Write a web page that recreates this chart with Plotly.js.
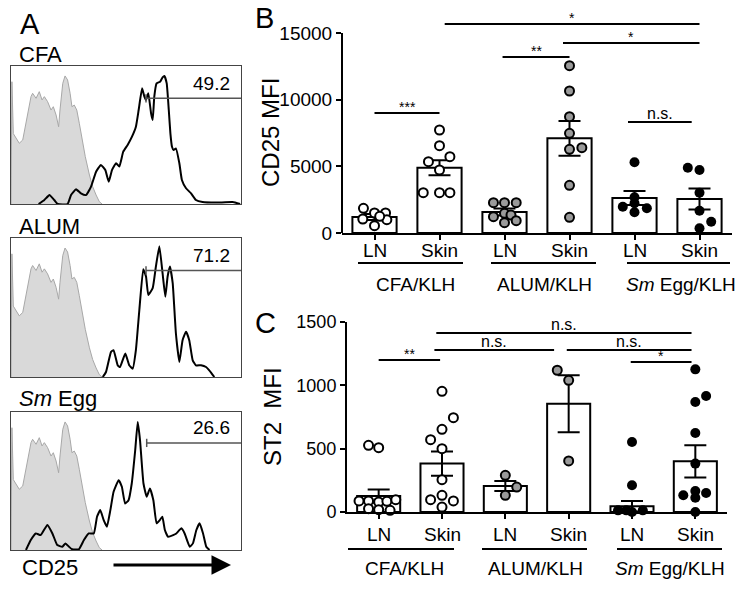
<!DOCTYPE html>
<html><head><meta charset="utf-8">
<script src="https://cdn.plot.ly/plotly-3.0.1.min.js"></script>
<style>html,body{margin:0;padding:0;background:#fff}#chart{width:744px;height:589px}</style>
</head><body><div id="chart"></div>
<script>
// ================= DATA =================
const categories = ['LN', 'Skin', 'LN', 'Skin', 'LN', 'Skin'];
const groupLabels = ['CFA/KLH', 'ALUM/KLH', '<i>Sm</i> Egg/KLH'];

// Panel B: CD25 MFI (mean, SEM, individual points with horizontal jitter)
const cd25Ticks = [0, 5000, 10000, 15000];
const cd25Mean = [1200, 4900, 1575, 7100, 2625, 2550];
const cd25Sem = [220, 560, 260, 1300, 520, 790];
const cd25Pts = [
  [1850, 1500, 1500, 1050, 1000, 550, 1250],
  [7725, 6550, 5350, 5725, 4725, 3025, 3025, 3025],
  [2275, 2275, 2275, 1225, 1475, 1350, 775, 925],
  [12550, 10650, 8725, 7475, 6275, 6400, 3575, 1175],
  [5300, 2675, 2225, 1975, 1850, 1550],
  [4900, 4725, 3025, 1675, 850, 350]
];
const cd25Off = [
  [-0.17, 0, 0.17, -0.18, 0.19, 0, 0.08],
  [0, 0, -0.17, 0.16, 0, -0.25, 0, 0.16],
  [-0.17, 0, 0.18, -0.17, 0, 0.1, 0, 0.18],
  [0, 0, 0, 0, 0, 0.19, 0, 0],
  [0, 0, 0, -0.18, 0.19, 0],
  [-0.18, 0, 0, 0, 0.18, 0]
];
// significance brackets panel B
const sigBx0 = [0, 1.08, 1.97, 2.9, 3.9];
const sigBx1 = [1, 5, 3, 5, 4.88];
const sigBy = [9000, 15675, 13200, 14250, 8325];
const sigBlab = ['***', '*', '**', '*', 'n.s.'];

// Panel C: ST2 MFI
const st2Ticks = [0, 500, 1000, 1500];
const st2Mean = [126, 382, 205, 855, 45, 400];
const st2Sem = [52, 96, 40, 225, 42, 127];
const st2Pts = [
  [526, 508, 87, 87, 79, 84, 97, 26, 18, 13],
  [953, 745, 653, 571, 500, 255, 97, 132, 87, 39],
  [290, 197, 132],
  [1119, 1040, 403],
  [553, 211, 13, 13, 0, 13],
  [1126, 916, 869, 624, 382, 132, 166, 150, 113, 0]
];
const st2Off = [
  [-0.16, 0, -0.31, -0.16, 0, 0.13, 0.27, -0.16, 0, 0.18],
  [0, 0.18, 0, -0.18, 0, 0, -0.18, 0, 0.18, 0],
  [0, 0.18, 0],
  [-0.18, 0, 0],
  [0, 0, -0.22, -0.09, 0, 0.17],
  [0, 0.17, 0, 0, 0, -0.19, 0, 0.17, 0, 0]
];
const sigCx0 = [0, 0.91, 0.88, 2.97, 3.98];
const sigCx1 = [0.97, 4.94, 2.77, 4.94, 4.94];
const sigCy = [1200, 1413, 1279, 1279, 1184];
const sigClab = ['**', 'n.s.', 'n.s.', 'n.s.', '*'];

// Panel A: CD25 histograms (x: % of axis, y: % of max)
const isoX = [0,0.4,1,2.2,3.6,5.1,7.2,8.7,9.4,10.9,12.3,13.5,14.5,15.9,17.4,18.4,19.6,20.7,21.3,22.5,23.5,24.6,25.7,26.5,27.5,28.6,29.7,30.9,32.3,34.1,35.5,37,38.4,39.6];
const isoY = [0,88.6,51,47.6,44,46.4,65.7,77.8,80.2,76.6,81.4,75.4,77.8,74.2,68.1,70.5,64.5,56,68.1,87.4,92.8,89.9,80.2,70.5,71.7,68.1,58.5,46.4,34.3,21,12.6,6.5,1.7,0];
const cfaX = [12,14.5,16.7,18.8,20.3,24.6,26.1,28.3,30.4,32.6,34.8,37,39.1,41,42.5,43.9,45.7,47.1,48.8,50.7,52.6,54.3,55.5,57,58,58.7,59.7,60.9,61.6,62.3,63.3,64.8,65.9,66.7,67.7,68.6,69.3,70,70.7,71.7,73.2,74.3,76.1,78.3,80.4,83.3,89.1,96.4,99.6];
const cfaY = [0,2.9,6.5,2.9,0,0,6.5,10.6,7.7,6.5,12.6,23.4,28.3,24.6,16.2,24.6,29.5,27.1,37.9,42.8,48.8,56,68.1,83.8,77.8,75.4,80.2,65.7,60.9,77.8,87.4,88.6,91.8,92.8,87.4,68.1,51.2,41.5,39.1,40.3,29.5,17.4,11.4,7.7,2.9,1.4,1,1.4,0];
const alumX = [39.9,41.3,43.5,44.6,46.4,47.4,49.7,51.4,52.9,54.3,55.8,57.5,58.7,59.7,61.6,63,64.5,65.9,67.1,68.1,69.1,70.3,71.7,73.2,74.6,76.1,77.5,79,80.4,82.6,84.8,86.2,88.4];
const alumY = [0,3.6,18.1,19.3,8.4,7.2,16.9,8.4,6,19.3,48.2,77.6,72.3,59,63.9,79.5,94,74.7,57.8,72.3,79.5,67.5,31.3,10.8,26.5,32.5,26.5,12,8.4,8.4,7.2,4.8,0];
const smX = [6.5,8.6,10.8,12.9,15.8,18,20.1,22.3,23.7,25.2,26.6,29.5,31.7,33.8,36,37.4,38.8,40.3,41.7,43.2,44.6,46.8,48.2,49.6,51.1,52.5,54,55.1,56.1,57.6,59,60.4,61.9,63.3,64.7,65.8,66.9,68.3,70.5,71.9,74.1,75.5,77.7,79.1,80.6,82,83.5,84.9,86.3];
const smY = [0,7.2,12,10.8,18.1,12,3.6,2.4,4.8,2.4,0.5,0.5,7.2,12,12,24.1,28.9,21.7,16.9,28.9,42.2,50.6,45.8,33.7,36.1,48.2,72.3,92.8,79.5,48.2,38.6,44.6,36.1,19.3,21.7,24.1,14.5,9.6,10.8,12,15.7,12,2.4,4.8,14.5,19.3,12,2.4,0];
const histTitles = ['CFA', 'ALUM', '<i>Sm</i> Egg'];
const gateX = [58.7, 58.7, 59];
const gateY = [76.6, 76.6, 77.6];
const gateLab = ['49.2', '71.2', '26.6'];

// ================= LAYOUT HELPERS =================
const W = 744, H = 589;
const px = v => v / W;
const py = v => 1 - v / H;
const FONT = 'Liberation Sans, Arial, Helvetica, sans-serif';

const traces = [];
const shapes = [];
const annotations = [];

const markerStyles = [
  {color: '#ffffff', size: 9, line: {color: '#000', width: 2}},
  {color: '#9a9a9a', size: 9, line: {color: '#000', width: 2}},
  {color: '#000000', size: 10, line: {color: '#000', width: 0}}
];

function panel(xa, ya, means, sems, pts, offs, labelY) {
  traces.push({
    type: 'bar', x: [0, 1, 2, 3, 4, 5], y: means, width: 0.68,
    xaxis: xa, yaxis: ya,
    marker: {color: '#fff', line: {color: '#000', width: 2}},
    error_y: {type: 'data', array: sems, visible: true, color: '#000', thickness: 2, width: 11},
    hoverinfo: 'skip', showlegend: false
  });
  pts.forEach((vals, i) => {
    traces.push({
      type: 'scatter', mode: 'markers', xaxis: xa, yaxis: ya,
      x: vals.map((v, k) => i + offs[i][k]), y: vals,
      marker: markerStyles[Math.floor(i / 2)], cliponaxis: false,
      hoverinfo: 'skip', showlegend: false
    });
  });
  categories.forEach((c, i) => {
    annotations.push({xref: xa, yref: 'paper', x: i, y: py(labelY), text: c, showarrow: false,
      xanchor: 'center', yanchor: 'middle', font: {family: FONT, size: 19, color: '#000'}});
  });
}
panel('x', 'y', cd25Mean, cd25Sem, cd25Pts, cd25Off, 250);
panel('x2', 'y2', st2Mean, st2Sem, st2Pts, st2Off, 534);

function sig(xa, ya, x0s, x1s, ys, labs) {
  x0s.forEach((x0, i) => {
    shapes.push({type: 'line', xref: xa, yref: ya, x0: x0, x1: x1s[i], y0: ys[i], y1: ys[i],
      line: {color: '#000', width: 2}});
    const isStar = labs[i].indexOf('*') >= 0;
    annotations.push({xref: xa, yref: ya, x: (x0 + x1s[i]) / 2, y: ys[i], text: labs[i],
      showarrow: false, yanchor: 'bottom', yshift: isStar ? -4 : -2,
      font: {family: FONT, size: isStar ? 14 : 16, color: '#000'}});
  });
}
sig('x', 'y', sigBx0, sigBx1, sigBy, sigBlab);
sig('x2', 'y2', sigCx0, sigCx1, sigCy, sigClab);

// custom y axis line for panel B (stops at 15000)
shapes.push({type: 'line', xref: 'paper', yref: 'y', x0: px(342), x1: px(342), y0: 0, y1: 15000,
  line: {color: '#000', width: 2}});

// group underlines + labels
function groupLabs(lineY, segs, textY, centers) {
  segs.forEach((s, i) => {
    shapes.push({type: 'line', xref: 'paper', yref: 'paper', x0: px(s[0]), x1: px(s[1]),
      y0: py(lineY), y1: py(lineY), line: {color: '#000', width: 2}});
    annotations.push({xref: 'paper', yref: 'paper', x: px(centers[i]), y: py(textY),
      text: groupLabels[i], showarrow: false, xanchor: 'center', yanchor: 'middle',
      font: {family: FONT, size: 19, color: '#000'}});
  });
}
groupLabs(263, [[358, 463], [491, 596], [627, 730]], 284, [416, 544, 681]);
groupLabs(549, [[348, 454], [482, 587], [617, 722]], 568, [405, 535, 670]);

// Histograms
const boxes = [[66, 204], [238, 377], [412, 550]];
const blackX = [cfaX, alumX, smX];
const blackY = [cfaY, alumY, smY];
const titleY = [55, 227, 398];
boxes.forEach((b, i) => {
  const n = i + 3;
  traces.push({type: 'scatter', mode: 'lines', x: isoX, y: isoY, xaxis: 'x' + n, yaxis: 'y' + n,
    fill: 'tozeroy', fillcolor: '#d9d9d9', line: {color: '#a8a8a8', width: 1},
    hoverinfo: 'skip', showlegend: false});
  traces.push({type: 'scatter', mode: 'lines', x: blackX[i], y: blackY[i], xaxis: 'x' + n, yaxis: 'y' + n,
    line: {color: '#000', width: 2, shape: 'spline', smoothing: 0.4},
    hoverinfo: 'skip', showlegend: false});
  shapes.push({type: 'line', xref: 'x' + n, yref: 'y' + n, x0: gateX[i], x1: 100, y0: gateY[i], y1: gateY[i],
    line: {color: '#555', width: 1.5}});
  shapes.push({type: 'line', xref: 'x' + n, yref: 'y' + n, x0: gateX[i], x1: gateX[i], y0: gateY[i] - 3, y1: gateY[i] + 3,
    line: {color: '#555', width: 1.5}});
  annotations.push({xref: 'x' + n, yref: 'y' + n, x: 96, y: gateY[i] + 11, text: gateLab[i],
    showarrow: false, xanchor: 'right', yanchor: 'middle', font: {family: FONT, size: 19, color: '#000'}});
  annotations.push({xref: 'paper', yref: 'paper', x: px(17), y: py(titleY[i]), text: histTitles[i],
    showarrow: false, xanchor: 'left', yanchor: 'middle', font: {family: FONT, size: 22, color: '#000'}});
});

// panel letters and other texts
const letter = (t, x, y) => annotations.push({xref: 'paper', yref: 'paper', x: px(x), y: py(y), text: t,
  showarrow: false, xanchor: 'left', yanchor: 'middle', font: {family: FONT, size: 29, color: '#000'}});
letter('A', 18, 24); letter('B', 253, 18); letter('C', 253, 323);
annotations.push({xref: 'paper', yref: 'paper', x: px(20), y: py(567), text: 'CD25', showarrow: false,
  xanchor: 'left', yanchor: 'middle', font: {family: FONT, size: 22, color: '#000'}});
annotations.push({xref: 'paper', yref: 'paper', x: px(231), y: py(565), text: '', showarrow: true,
  axref: 'pixel', ayref: 'pixel', ax: -119, ay: 0, arrowhead: 2, arrowsize: 1.3, arrowwidth: 3, arrowcolor: '#000'});
annotations.push({xref: 'paper', yref: 'paper', x: px(270), y: py(133), text: 'CD25 MFI', textangle: -90,
  showarrow: false, xanchor: 'center', yanchor: 'middle', font: {family: FONT, size: 24, color: '#000'}});
annotations.push({xref: 'paper', yref: 'paper', x: px(272), y: py(417), text: 'ST2&nbsp;&nbsp;MFI', textangle: -90,
  showarrow: false, xanchor: 'center', yanchor: 'middle', font: {family: FONT, size: 24, color: '#000'}});

const catAxis = (dom, anchor) => ({
  domain: dom, anchor: anchor, range: [-0.5, 5.5], tickmode: 'array', tickvals: [0, 1, 2, 3, 4, 5],
  ticks: 'outside', ticklen: 5, tickwidth: 2, tickcolor: '#000', showticklabels: false,
  showline: true, linewidth: 2, linecolor: '#000', showgrid: false, zeroline: false, fixedrange: true
});
const valAxis = (dom, anchor, range, ticks, line, fs) => ({
  domain: dom, anchor: anchor, range: range, tickmode: 'array', tickvals: ticks, ticktext: ticks.map(String),
  ticks: 'outside', ticklen: 5, tickwidth: 2, tickcolor: '#000',
  showline: line, linewidth: 2, linecolor: '#000', showgrid: false, zeroline: false,
  tickfont: {family: FONT, size: fs, color: '#000'}, fixedrange: true
});
const histAxis = (dom, anchor) => ({
  domain: dom, anchor: anchor, range: [0, 100], showline: true, mirror: true, linecolor: '#444', linewidth: 1,
  showticklabels: false, ticks: '', showgrid: false, zeroline: false, fixedrange: true
});

const layout = {
  width: W, height: H, margin: {l: 0, r: 0, t: 0, b: 0},
  paper_bgcolor: '#fff', plot_bgcolor: 'rgba(0,0,0,0)', showlegend: false,
  font: {family: FONT, color: '#000'},
  xaxis: catAxis([px(342), px(732)], 'y'),
  yaxis: valAxis([py(233), py(13)], 'x', [0, 16500], cd25Ticks, false, 19),
  xaxis2: catAxis([px(347), px(727)], 'y2'),
  yaxis2: valAxis([py(512), py(322)], 'x2', [0, 1500], st2Ticks, true, 18),
  xaxis3: histAxis([px(11), px(241)], 'y3'), yaxis3: histAxis([py(204), py(66)], 'x3'),
  xaxis4: histAxis([px(11), px(241)], 'y4'), yaxis4: histAxis([py(377), py(238)], 'x4'),
  xaxis5: histAxis([px(11), px(241)], 'y5'), yaxis5: histAxis([py(550), py(412)], 'x5'),
  shapes: shapes, annotations: annotations
};

Plotly.newPlot('chart', traces, layout, {staticPlot: true, displayModeBar: false});
</script>
</body></html>
